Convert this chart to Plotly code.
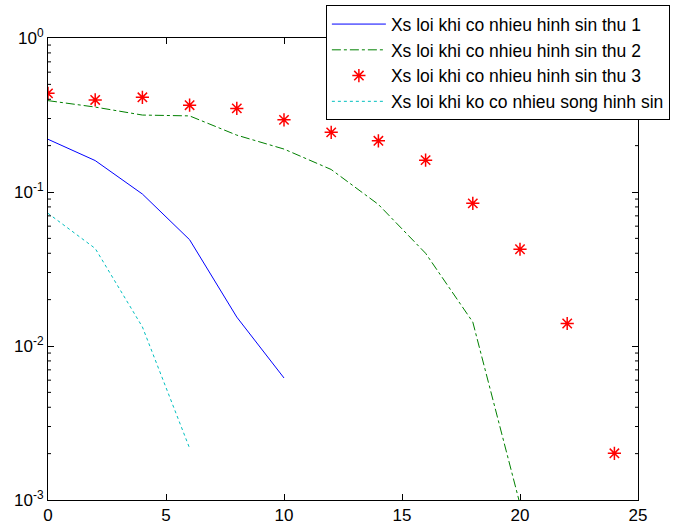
import plotly.graph_objects as go

x_s1 = [0, 2, 4, 6, 8, 10]
y_s1 = [0.220, 0.160, 0.097, 0.049, 0.0154, 0.0062]

x_s2 = [0, 2, 4, 6, 8, 10, 12, 14, 16, 18, 20]
y_s2 = [0.392, 0.356, 0.316, 0.312, 0.234, 0.190, 0.140, 0.083, 0.040, 0.0143, 0.00094]

x_s3 = [0, 2, 4, 6, 8, 10, 12, 14, 16, 18, 20, 22, 24]
y_s3 = [0.437, 0.396, 0.412, 0.366, 0.349, 0.294, 0.244, 0.215, 0.161, 0.0844, 0.0425, 0.0140, 0.00201]

x_s4 = [0, 2, 4, 6]
y_s4 = [0.0727, 0.043, 0.0133, 0.00217]

names = [
    "Xs loi khi co nhieu hinh sin thu 1",
    "Xs loi khi co nhieu hinh sin thu 2",
    "Xs loi khi co nhieu hinh sin thu 3",
    "Xs loi khi ko co nhieu song hinh sin",
]

y_tickvals = [1e-3, 1e-2, 1e-1, 1]
y_ticktext = ["10<sup>-3</sup>", "10<sup>-2</sup>", "10<sup>-1</sup>", "10<sup>0</sup>"]
x_tickvals = [0, 5, 10, 15, 20, 25]

minor_vals = [m * 10 ** e for e in (-3, -2, -1) for m in range(2, 10)]

FONT = "Liberation Sans, Arial"

fig = go.Figure()
fig.add_trace(go.Scatter(x=x_s1, y=y_s1, mode="lines", name=names[0],
                         line=dict(color="#0000ff", width=1)))
fig.add_trace(go.Scatter(x=x_s2, y=y_s2, mode="lines", name=names[1],
                         line=dict(color="#008000", width=1, dash="dashdot")))
fig.add_trace(go.Scatter(x=x_s3, y=y_s3, mode="markers", name=names[2],
                         marker=dict(symbol="asterisk", size=11, color="#ff0000",
                                     line=dict(color="#ff0000", width=1.5))))
fig.add_trace(go.Scatter(x=x_s4, y=y_s4, mode="lines", name=names[3],
                         line=dict(color="#00bfbf", width=1, dash="dot")))

axis_common = dict(showline=True, linecolor="black", linewidth=1, mirror="ticks",
                   ticks="inside", ticklen=6, tickcolor="black", showgrid=False,
                   zeroline=False, tickfont=dict(family=FONT, size=17, color="black"))

fig.update_xaxes(range=[0, 25], tickvals=x_tickvals, **axis_common)
fig.update_yaxes(type="log", range=[-3, 0], tickvals=y_tickvals, ticktext=y_ticktext,
                 **axis_common)

# minor log ticks on left and right frame edges
for v in minor_vals:
    fig.add_shape(type="line", xref="x domain", yref="y", x0=0, x1=3 / 590, y0=v, y1=v,
                  line=dict(color="black", width=1))
    fig.add_shape(type="line", xref="x domain", yref="y", x0=1 - 3 / 590, x1=1, y0=v, y1=v,
                  line=dict(color="black", width=1))

fig.update_layout(
    width=673, height=527,
    margin=dict(l=48, r=35, t=38, b=27, autoexpand=False),
    paper_bgcolor="white", plot_bgcolor="white",
    font=dict(family=FONT, size=14, color="black"),
    showlegend=True,
    legend=dict(x=0.471, y=1.071, xanchor="left", yanchor="top",
                bgcolor="white", bordercolor="black", borderwidth=1,
                traceorder="normal", itemwidth=54,
                font=dict(family=FONT, size=17.5, color="black")),
)

fig.write_html("out.html")
